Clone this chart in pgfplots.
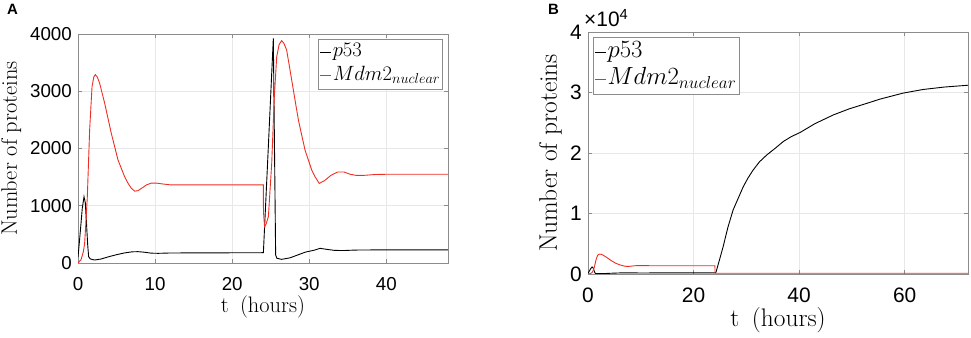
\documentclass[border=0pt]{standalone}
\usepackage{fontspec}
\newfontfamily\helv{Liberation Sans}
\usepackage{pgfplots}
\pgfplotsset{compat=1.18}
\usepackage{pgfplotstable}

\definecolor{mred}{RGB}{238,45,35}
\definecolor{axgray}{RGB}{140,140,140}
\definecolor{gridgray}{RGB}{232,232,232}

% time (hours), number of proteins
\pgfplotstableread{
t v
0 100
0.3 550
0.55 950
0.78 1158
0.95 1050
1.1 700
1.25 330
1.38 110
1.6 70
2.16 52
3 70
4 110
5 145
6 175
7 195
7.78 198
8.5 190
9.5 172
10.4 169
12 175
24.05 180
24.7 2050
25.34 3925
25.64 140
25.8 82
26.42 64
27.5 90
28.5 140
29.5 190
30.75 227
31.4 256
32.2 240
33.3 220
34.5 218
36 226
40 230
48 230
}\ptA

\pgfplotstableread{
t v
0 0
0.4 60
0.7 200
0.86 344
1.0 650
1.21 1158
1.51 2323
1.82 3080
2.05 3250
2.25 3290
2.5 3250
2.81 3139
3.46 2790
4.32 2265
5.19 1799
6.05 1507
6.5 1390
6.92 1305
7.35 1255
7.78 1263
8.3 1310
8.9 1365
9.5 1395
10.2 1395
11.0 1380
12.0 1365
18 1365
24.05 1365
24.06 900
24.2 635
24.4 680
24.7 810
25.13 1740
25.47 2905
25.78 3604
26.1 3820
26.42 3884
26.7 3840
27.07 3720
27.72 3197
28.59 2498
29.45 1974
30.32 1624
30.75 1507
31.3 1390
32.0 1440
32.8 1530
33.7 1590
34.5 1590
35.3 1550
36.1 1530
37 1530
38.5 1545
40 1550
48 1550
}\mdmA

\pgfplotstableread{
t v
0 100
0.3 550
0.55 950
0.78 1158
0.95 1050
1.1 700
1.25 330
1.38 110
1.6 70
2.16 52
3 70
4 110
5 145
6 175
7 195
7.78 198
8.5 190
9.5 172
10.4 169
12 175
24.05 180
24.25 300
24.9 2300
25.6 4500
26.5 7700
27.5 10600
28.5 12600
29.4 14400
30.3 15850
31.3 17200
32.5 18550
33.9 19700
35.5 20800
37.0 21900
38.5 22700
40.2 23400
43 24850
46.5 26300
49.5 27300
52.8 28200
55.3 28900
59.7 29900
63.5 30500
67.5 30900
72 31200
}\ptB

\pgfplotstableread{
t v
0 0
0.4 60
0.7 200
0.86 344
1.0 650
1.21 1158
1.51 2323
1.82 3080
2.05 3250
2.25 3290
2.5 3250
2.81 3139
3.46 2790
4.32 2265
5.19 1799
6.05 1507
6.5 1390
6.92 1305
7.35 1255
7.78 1263
8.3 1310
8.9 1365
9.5 1395
10.2 1395
11.0 1380
12.0 1365
18 1365
24.05 1365
24.06 120
72 120
}\mdmB

\pgfplotsset{
  matlab/.style={
    scale only axis,
    axis line style={axgray},
    grid=major,
    major grid style={gridgray, line width=0.6bp},
    tick align=inside,
    major tick length=4bp,
    tick style={axgray, line width=0.6bp},
    /pgf/number format/assume math mode=true,
    /pgf/number format/1000 sep={},
    xticklabel style={anchor=base, inner sep=0pt},
    yticklabel style={anchor=east, inner sep=0pt, xshift=-6bp},
    legend cell align=left,
    legend image code/.code={\draw[#1, line width=0.9bp] (0bp,0bp) -- (11bp,0bp);},
    legend style={draw=axgray, fill=white, line width=0.6bp, inner sep=1.5bp,
      row sep=0.5bp, /tikz/every even column/.append style={column sep=0pt}},
  }
}

\begin{document}
\begin{tikzpicture}
\useasboundingbox (0bp,0bp) rectangle (971bp,338bp);

\begin{axis}[
  matlab,
  at={(78bp,75bp)}, anchor=south west,
  width=370bp, height=229bp,
  xmin=0, xmax=48, ymin=0, ymax=4000,
  xtick={0,10,20,30,40},
  ytick={0,1000,2000,3000,4000},
  ticklabel style={font=\helv\fontsize{18.8}{19}\selectfont},
  xticklabel style={yshift=-27.5bp},
  label style={font=\fontsize{22.5}{23}\selectfont},
  xlabel={t\hspace{0.2em} (hours)},
  ylabel={Number of proteins},
  xlabel style={at={(axis description cs:0.5,-0.214)}, anchor=base},
  ylabel style={at={(axis description cs:-0.165,0.5)}, anchor=base},
  legend style={at={(axis description cs:0.9865,0.978)}, anchor=north east,
    font=\fontsize{19.3}{20}\selectfont,
    nodes={inner sep=1bp, text height=15bp, text depth=6bp}},
]
\addplot[black, line width=0.9bp] table[x=t, y=v] {\ptA};
\addplot[mred, line width=0.9bp] table[x=t, y=v] {\mdmA};
\addlegendentry{$p53$}
\addlegendentry{$Mdm2_{nuclear}$}
\end{axis}

\begin{axis}[
  matlab,
  at={(588bp,64bp)}, anchor=south west,
  width=380bp, height=242bp,
  xmin=0, xmax=72, ymin=0, ymax=40000,
  xtick={0,20,40,60},
  ytick={0,10000,20000,30000,40000},
  scaled y ticks=base 10:-4,
  ytick scale label code/.code={\helv\fontsize{21}{22}\selectfont ×10\textsuperscript{4}},
  every y tick scale label/.style={at={(axis description cs:0.0053,1.0207)}, anchor=base west, inner sep=0pt},
  ticklabel style={font=\helv\fontsize{21}{22}\selectfont},
  xticklabel style={yshift=-28bp},
  label style={font=\fontsize{25.5}{26}\selectfont},
  xlabel={t\hspace{0.2em} (hours)},
  ylabel={Number of proteins},
  xlabel style={at={(axis description cs:0.5,-0.219)}, anchor=base},
  ylabel style={at={(axis description cs:-0.082,0.5)}, anchor=base},
  legend style={at={(axis description cs:0.013,0.979)}, anchor=north west,
    font=\fontsize{24.5}{25}\selectfont,
    nodes={inner sep=1bp, text height=17.5bp, text depth=7bp}},
]
\addplot[black, line width=0.9bp] table[x=t, y=v] {\ptB};
\addplot[mred, line width=0.9bp] table[x=t, y=v] {\mdmB};
\addlegendentry{$p53$}
\addlegendentry{$Mdm2_{nuclear}$}
\end{axis}

\node[anchor=base west, inner sep=0pt] at (7bp,323bp) {\helv\bfseries\fontsize{15}{16}\selectfont A};
\node[anchor=base west, inner sep=0pt] at (548bp,323bp) {\helv\bfseries\fontsize{15}{16}\selectfont B};
\end{tikzpicture}
\end{document}
